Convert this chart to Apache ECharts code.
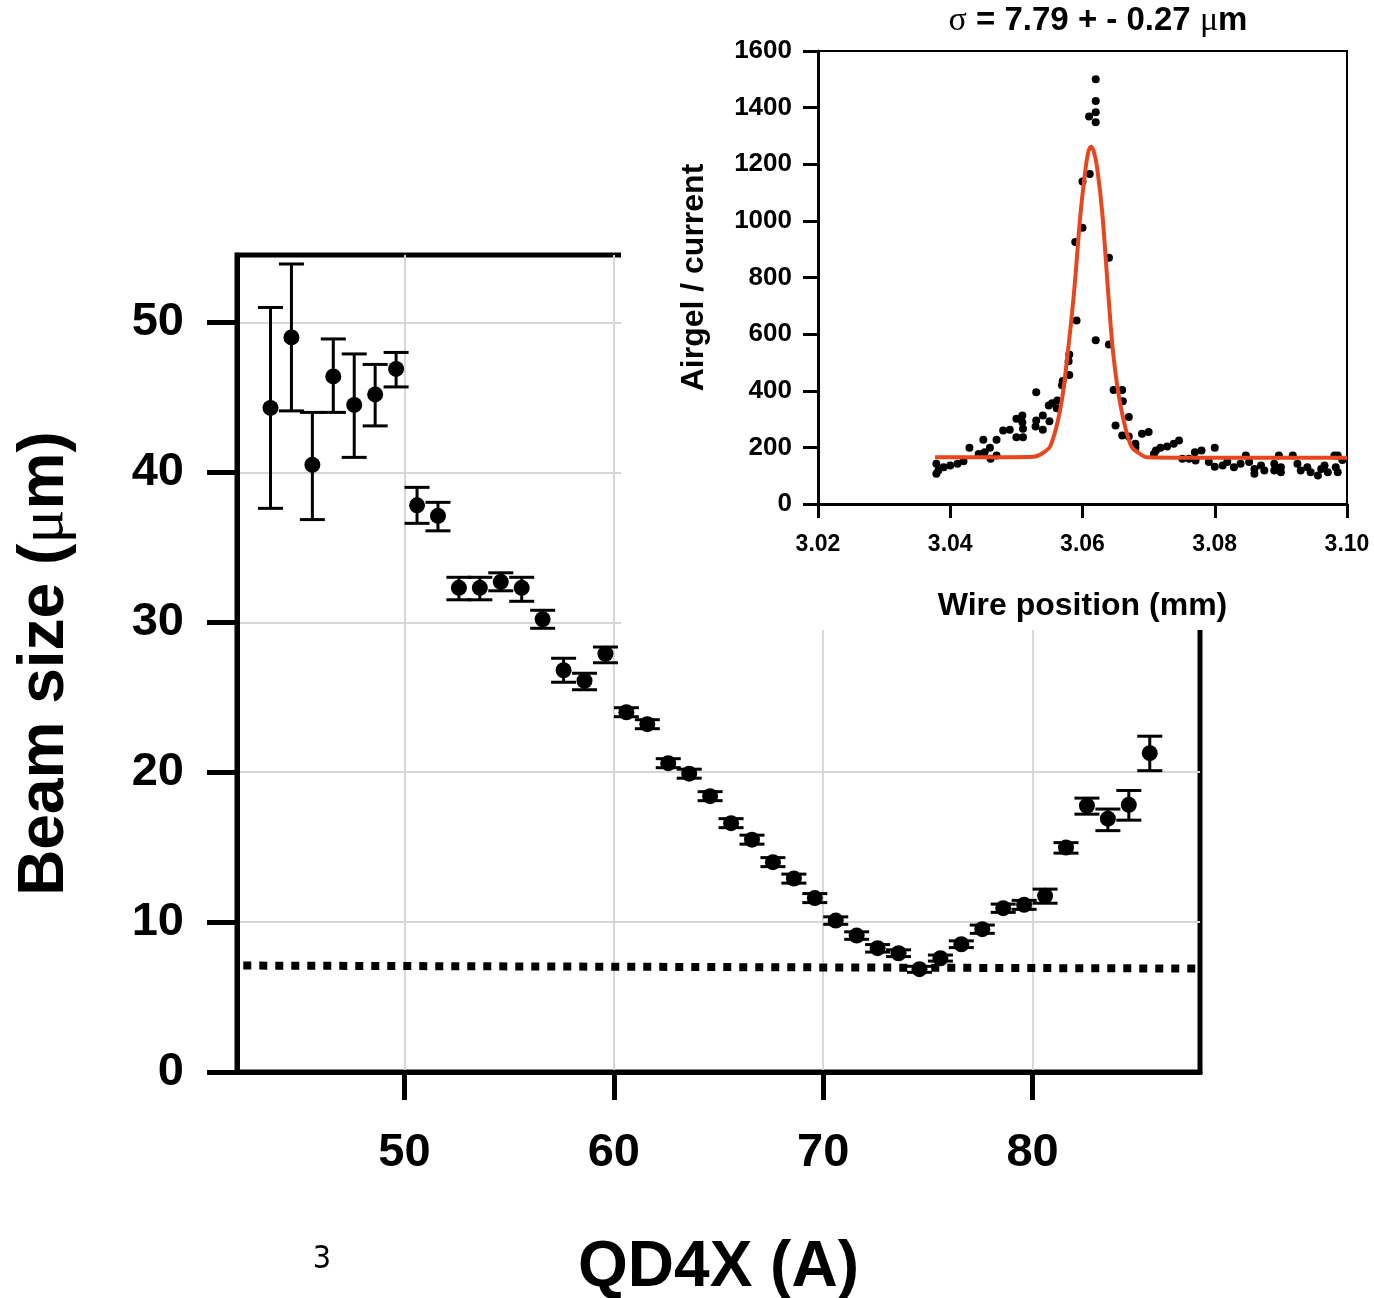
<!DOCTYPE html>
<html>
<head>
<meta charset="utf-8">
<script src="https://cdn.jsdelivr.net/npm/echarts@6/dist/echarts.min.js"></script>
<style>
  html, body { margin: 0; padding: 0; background: #fff; }
  #main { position: absolute; left: 0; top: 0; width: 1374px; height: 1298px; }
  #inset { position: absolute; left: 621px; top: 0; width: 753px; height: 630px; background: #fff; }
</style>
</head>
<body>
<div id="main"></div>
<div id="inset"></div>
<script>
// beam size scan
var beamX = [43.6, 44.6, 45.6, 46.6, 47.6, 48.6, 49.6, 50.6, 51.6, 52.6, 53.6, 54.6, 55.6, 56.6, 57.6, 58.6, 59.6,
  60.6, 61.6, 62.6, 63.6, 64.6, 65.6, 66.6, 67.6, 68.6, 69.6, 70.6, 71.6, 72.6, 73.6, 74.6, 75.6, 76.6, 77.6,
  78.6, 79.6, 80.6, 81.6, 82.6, 83.6, 84.6, 85.6];
var beamSize = [44.3, 49.0, 40.5, 46.4, 44.5, 45.2, 46.9, 37.8, 37.1, 32.3, 32.3, 32.7, 32.3, 30.2, 26.8, 26.1, 27.9,
  24.0, 23.2, 20.6, 19.9, 18.4, 16.6, 15.5, 14.0, 12.9, 11.6, 10.1, 9.1, 8.26, 7.92, 6.86, 7.59, 8.52, 9.53,
  10.93, 11.15, 11.75, 14.97, 17.76, 16.9, 17.82, 21.27];
var errHigh = [51.0, 53.9, 44.0, 48.9, 47.9, 47.2, 48.0, 39.0, 38.0, 33.0, 33.0, 33.3, 33.0, 30.8, 27.6, 26.6, 28.35,
  24.3, 23.5, 20.9, 20.2, 18.7, 16.9, 15.8, 14.3, 13.2, 11.9, 10.35, 9.35, 8.5, 8.15, 7.05, 7.8, 8.75, 9.8,
  11.2, 11.45, 12.2, 15.3, 18.27, 17.54, 18.78, 22.4];
var errLow = [37.6, 44.1, 36.85, 44.0, 41.0, 43.1, 45.7, 36.6, 36.1, 31.5, 31.5, 32.1, 31.4, 29.6, 26.0, 25.5, 27.3,
  23.7, 22.9, 20.3, 19.6, 18.1, 16.3, 15.2, 13.7, 12.6, 11.3, 9.85, 8.85, 8.0, 7.7, 6.65, 7.4, 8.3, 9.25,
  10.65, 10.85, 11.26, 14.6, 17.2, 16.1, 16.8, 20.1];
var limitX = [42.3, 87.8];
var limitY = [7.1, 6.9];
var xTicks = [50, 60, 70, 80];
var yTicks = [0, 10, 20, 30, 40, 50];

// wire scan (inset)
var wireX = [3.0379, 3.0379, 3.0382, 3.0390, 3.0400, 3.0411, 3.0420, 3.0429, 3.0443, 3.0450, 3.0452, 3.0460, 3.0461,
  3.0470, 3.0470, 3.0480, 3.0490, 3.0500, 3.0500, 3.0509, 3.0509, 3.0510, 3.0510, 3.0529, 3.0530, 3.0530, 3.0540,
  3.0540, 3.0549, 3.0550, 3.0554, 3.0561, 3.0562, 3.0569, 3.0570, 3.0579, 3.0580, 3.0580, 3.0589, 3.0591, 3.0600,
  3.0600, 3.0610, 3.0611, 3.0620, 3.0620, 3.0620, 3.0620, 3.0620, 3.0640, 3.0640, 3.0647, 3.0650, 3.0660, 3.0660,
  3.0661, 3.0670, 3.0670, 3.0680, 3.0680, 3.0690, 3.0700, 3.0708, 3.0711, 3.0718, 3.0728, 3.0738, 3.0746, 3.0751,
  3.0761, 3.0771, 3.0770, 3.0780, 3.0791, 3.0800, 3.0800, 3.0812, 3.0819, 3.0829, 3.0839, 3.0847, 3.0852, 3.0860,
  3.0860, 3.0870, 3.0875, 3.0890, 3.0890, 3.0897, 3.0900, 3.0900, 3.0918, 3.0925, 3.0930, 3.0940, 3.0945, 3.0956,
  3.0961, 3.0966, 3.0971, 3.0981, 3.0986, 3.0983, 3.0986, 3.0993];
var wireY = [107, 142, 118, 130, 136, 142, 151, 199, 177, 227, 183, 199, 160,
  227, 171, 260, 262, 301, 236, 313, 289, 266, 236, 274, 295, 395, 313,
  262, 348, 292, 356, 338, 366, 419, 434, 504, 528, 456, 925, 648, 976,
  1139, 1369, 1166, 1500, 1423, 1384, 1348, 578, 870, 563, 403, 277, 403, 242,
  363, 307, 238, 213, 199, 248, 254, 177, 189, 199, 203, 213, 224, 160,
  160, 154, 183, 189, 148, 199, 132, 136, 148, 130, 142, 171, 148, 124,
  107, 136, 118, 142, 118, 171, 130, 112, 171, 142, 118, 130, 112, 101,
  124, 136, 112, 171, 171, 130, 112, 155];
var fitX = [3.0377, 3.0450, 3.0526, 3.0540, 3.0552, 3.0567, 3.0577, 3.0587, 3.0597, 3.0605, 3.0609, 3.0613, 3.0617,
  3.0622, 3.0630, 3.0639, 3.0647, 3.0658, 3.0673, 3.0685, 3.0698, 3.0800, 3.1000];
var fitY = [165, 165, 167, 180, 207, 342, 519, 742, 1025, 1190, 1245, 1262, 1245,
  1190, 1025, 742, 519, 342, 207, 180, 165, 163, 163];

var FONT = 'Liberation Sans, Arial, Helvetica, sans-serif';

function renderErr(params, api) {
  var x = api.value(0);
  var top = api.coord([x, api.value(2)]);
  var bot = api.coord([x, api.value(1)]);
  var half = 12.5;
  var st = { stroke: '#000', lineWidth: 3 };
  return {
    type: 'group',
    children: [
      { type: 'line', shape: { x1: top[0], y1: top[1], x2: bot[0], y2: bot[1] }, style: st },
      { type: 'line', shape: { x1: top[0] - half, y1: top[1], x2: top[0] + half, y2: top[1] }, style: st },
      { type: 'line', shape: { x1: bot[0] - half, y1: bot[1], x2: bot[0] + half, y2: bot[1] }, style: st }
    ]
  };
}

var mainChart = echarts.init(document.getElementById('main'));
mainChart.setOption({
  backgroundColor: '#fff',
  animation: false,
  grid: {
    left: 237, top: 255, width: 963, height: 817, outerBoundsMode: 'none',
    show: true, borderColor: '#000', borderWidth: 5
  },
  xAxis: {
    type: 'value', min: 42, max: 88,
    name: 'QD4X (A)', nameLocation: 'middle', nameGap: 164,
    nameTextStyle: { fontSize: 64, fontWeight: 'bold', color: '#000', fontFamily: FONT },
    axisLine: { show: true, onZero: false, lineStyle: { color: '#000', width: 5 } },
    axisTick: { show: true, length: 28, customValues: xTicks, lineStyle: { color: '#000', width: 5 } },
    axisLabel: { customValues: xTicks, fontSize: 47, fontWeight: 'bold', color: '#000', margin: 58, fontFamily: FONT },
    splitLine: { show: true, lineStyle: { color: '#d6d6d6', width: 2 } }
  },
  yAxis: {
    type: 'value', min: 0, max: 54.5,
    name: 'Beam size ({m|μ}m)', nameLocation: 'middle', nameGap: 160,
    nameTextStyle: {
      fontSize: 64, fontWeight: 'bold', color: '#000', fontFamily: FONT,
      rich: { m: { fontSize: 64, fontWeight: 'normal', color: '#000', fontFamily: 'Liberation Serif, serif' } }
    },
    axisLine: { show: true, onZero: false, lineStyle: { color: '#000', width: 5 } },
    axisTick: { show: true, length: 30, customValues: yTicks, lineStyle: { color: '#000', width: 5 } },
    axisLabel: { customValues: yTicks, fontSize: 47, fontWeight: 'bold', color: '#000', margin: 53, fontFamily: FONT },
    splitLine: { show: true, lineStyle: { color: '#d6d6d6', width: 2 } }
  },
  graphic: [
    { type: 'text', x: 322, y: 1260, style: { text: '3', fill: '#000', font: '32px "Liberation Sans Narrow", "DejaVu Sans Condensed", sans-serif', textAlign: 'center', textVerticalAlign: 'middle' } }
  ],
  series: [
    {
      type: 'line', data: limitX.map(function (x, i) { return [x, limitY[i]]; }),
      symbol: 'none', lineStyle: { color: '#000', width: 8, type: [8, 8], cap: 'butt' }, z: 3
    },
    {
      type: 'custom', renderItem: renderErr, z: 4,
      data: beamX.map(function (x, i) { return [x, errLow[i], errHigh[i]]; }),
      encode: { x: 0, y: [1, 2] }
    },
    {
      type: 'scatter', symbolSize: 16, itemStyle: { color: '#000', opacity: 1 }, z: 5,
      data: beamX.map(function (x, i) { return [x, beamSize[i]]; })
    }
  ]
});

var insetChart = echarts.init(document.getElementById('inset'));
insetChart.setOption({
  backgroundColor: '#fff',
  animation: false,
  grid: {
    left: 197, top: 51, width: 529, height: 453, outerBoundsMode: 'none',
    show: true, borderColor: '#000', borderWidth: 2
  },
  xAxis: {
    type: 'value', min: 3.02, max: 3.10, interval: 0.02,
    name: 'Wire position (mm)', nameLocation: 'middle', nameGap: 86,
    nameTextStyle: { fontSize: 32, fontWeight: 'bold', color: '#000', fontFamily: FONT },
    axisLine: { show: true, onZero: false, lineStyle: { color: '#000', width: 3 } },
    axisTick: { show: true, length: 14, lineStyle: { color: '#000', width: 3 } },
    axisLabel: {
      fontSize: 23, fontWeight: 'bold', color: '#000', margin: 29, fontFamily: FONT,
      formatter: function (v) { return v.toFixed(2); }
    },
    splitLine: { show: false }
  },
  yAxis: {
    type: 'value', min: 0, max: 1600, interval: 200,
    name: 'Airgel / current', nameLocation: 'middle', nameGap: 108,
    nameTextStyle: { fontSize: 32, fontWeight: 'bold', color: '#000', fontFamily: FONT },
    axisLine: { show: true, onZero: false, lineStyle: { color: '#000', width: 3 } },
    axisTick: { show: true, length: 15, lineStyle: { color: '#000', width: 3 } },
    axisLabel: {
      fontSize: 26, fontWeight: 'bold', color: '#000', margin: 26, fontFamily: FONT,
      formatter: function (v) { return String(v); }
    },
    splitLine: { show: false }
  },
  graphic: [
    {
      type: 'text', x: 477, y: 21,
      style: {
        text: '{s|σ} = 7.79 + - 0.27 {s|μ}m', fill: '#000', textAlign: 'center', textVerticalAlign: 'middle',
        font: 'bold 33px ' + FONT,
        rich: { s: { fontSize: 34, fontWeight: 'normal', fontFamily: 'Liberation Serif, serif', fill: '#000' } }
      }
    }
  ],
  series: [
    {
      type: 'scatter', symbolSize: 8, itemStyle: { color: '#000', opacity: 1 }, z: 3,
      data: wireX.map(function (x, i) { return [x, wireY[i]]; })
    },
    {
      type: 'line', smooth: 0.35, symbol: 'none', z: 4,
      lineStyle: { color: '#e8461e', width: 4 },
      data: fitX.map(function (x, i) { return [x, fitY[i]]; })
    }
  ]
});
</script>
</body>
</html>
